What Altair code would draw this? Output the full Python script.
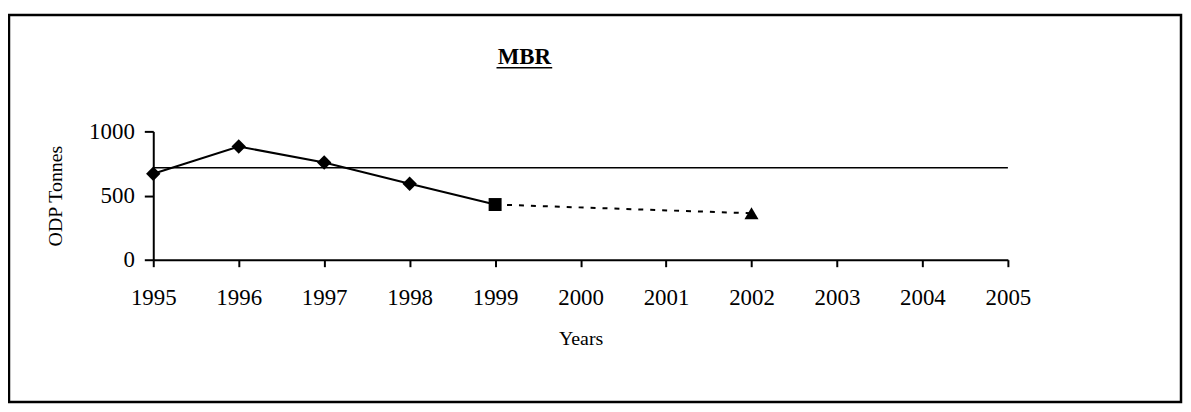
import altair as alt
import pandas as pd

# Data
hist_years = [1995, 1996, 1997, 1998, 1999]
hist_values = [670, 882, 758, 592, 430]
diamond_years = [1995, 1996, 1997, 1998]
diamond_values = [670, 882, 758, 592]
square_year = [1999]
square_value = [430]
proj_years = [1999, 2002]
proj_values = [430, 362]
target_years = [1995, 2005]
target_values = [717, 717]
tick_years = list(range(1995, 2006))
y_ticks = [0, 500, 1000]

FONT = "Liberation Serif"

hist = pd.DataFrame({"year": hist_years, "value": hist_values})
diam = pd.DataFrame({"year": diamond_years, "value": diamond_values})
sq = pd.DataFrame({"year": square_year, "value": square_value})
proj = pd.DataFrame({"year": proj_years, "value": proj_values})
tri = pd.DataFrame({"year": [proj_years[-1]], "value": [proj_values[-1]]})
target = pd.DataFrame({"year": target_years, "value": target_values})

xscale = alt.Scale(domain=[1995, 2005], nice=False, zero=False)
yscale = alt.Scale(domain=[0, 1000], nice=False)

xaxis = alt.Axis(
    values=tick_years, format="d", grid=False, title="Years",
    tickSize=7, tickWidth=2, domainWidth=2, domainColor="black", tickColor="black",
    labelFontSize=23, labelFont=FONT, labelColor="black", labelPadding=20,
    titleFontSize=20, titleFont=FONT, titleFontWeight="normal", titleColor="black",
    titlePadding=19, labelFlush=False, labelOverlap=False,
)
yaxis = alt.Axis(
    values=y_ticks, format="d", grid=False, title="ODP Tonnes",
    tickSize=9, tickWidth=2, domainWidth=2, domainColor="black", tickColor="black",
    labelFontSize=23, labelFont=FONT, labelColor="black", labelPadding=10,
    titleFontSize=20, titleFont=FONT, titleFontWeight="normal", titleColor="black",
    titlePadding=23, labelFlush=False,
)

X = alt.X("year:Q", scale=xscale, axis=xaxis)
Y = alt.Y("value:Q", scale=yscale, axis=yaxis)

target_line = alt.Chart(target).mark_line(color="black", strokeWidth=1.5).encode(x=X, y=Y)
hist_line = alt.Chart(hist).mark_line(color="black", strokeWidth=2).encode(x=X, y=Y)
proj_line = alt.Chart(proj).mark_line(color="black", strokeWidth=2, strokeDash=[5, 7]).encode(x=X, y=Y)
diamonds = alt.Chart(diam).mark_point(shape="diamond", filled=True, color="black", size=210, opacity=1).encode(x=X, y=Y)
square = alt.Chart(sq).mark_point(shape="square", filled=True, color="black", size=170, opacity=1).encode(x=X, y=Y)
triangle = alt.Chart(tri).mark_point(shape="triangle-up", filled=True, color="black", size=200, opacity=1).encode(x=X, y=Y)

title = alt.Chart(pd.DataFrame({"t": ["MBR"]})).mark_text(
    font=FONT, fontSize=23, fontWeight="bold", color="black", align="center", baseline="alphabetic"
).encode(text="t:N", x=alt.value(373), y=alt.value(-68))
underline = alt.Chart(pd.DataFrame({"t": ["MBR"]})).mark_rule(color="black", strokeWidth=1.5).encode(
    x=alt.value(345), x2=alt.value(401), y=alt.value(-64)
)
border = alt.Chart(pd.DataFrame({"t": ["b"]})).mark_rect(
    fill=None, stroke="black", strokeWidth=2.5
).encode(x=alt.value(-145), x2=alt.value(1033), y=alt.value(-117), y2=alt.value(272))

chart = alt.layer(
    border, target_line, hist_line, proj_line, diamonds, square, triangle, title, underline
).properties(
    width=859, height=129,
    autosize=alt.AutoSizeParams(type="none"),
    padding={"left": 146, "top": 123, "right": 176, "bottom": 144},
    background="white",
).configure_view(stroke=None)

chart.save("out.html", embed_options={"renderer": "svg", "actions": False})
